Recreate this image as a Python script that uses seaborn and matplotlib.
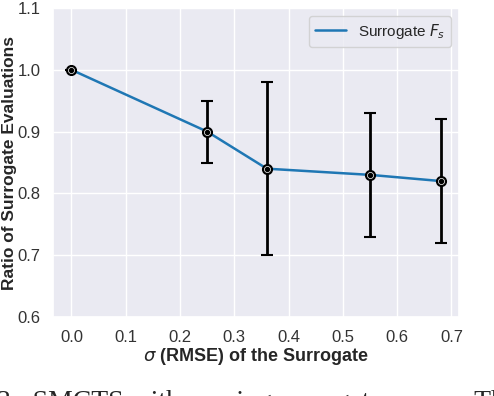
import matplotlib
matplotlib.use("Agg")
import matplotlib.pyplot as plt
import seaborn as sns
import pandas as pd

# values
sigma = [0.0, 0.25, 0.36, 0.55, 0.68]
ratio = [1.00, 0.90, 0.84, 0.83, 0.82]
err = [0.0, 0.05, 0.14, 0.10, 0.10]
x_ticks = [0.0, 0.1, 0.2, 0.3, 0.4, 0.5, 0.6, 0.7]
y_ticks = [0.6, 0.7, 0.8, 0.9, 1.0, 1.1]

sns.set_theme(style="darkgrid")
plt.rcParams['font.family'] = ['Liberation Sans', 'DejaVu Sans']

df = pd.DataFrame({"sigma": sigma, "ratio": ratio, "err": err})

fig = plt.figure(figsize=(4.94, 3.96), dpi=100)
ax = fig.add_axes([53 / 494, 1 - 317 / 396, 406 / 494, 309 / 396])

sns.lineplot(data=df, x="sigma", y="ratio", ax=ax, color="#1f77b4",
             linewidth=1.8, label="Surrogate $F_s$")
ax.errorbar(df["sigma"], df["ratio"], yerr=df["err"], fmt="none",
            ecolor="black", elinewidth=2, capsize=4, capthick=1.5, zorder=3)
ax.plot(df["sigma"], df["ratio"], "o", ms=7, mfc="black", mec="black",
        mew=1, zorder=4)
ax.plot(df["sigma"], df["ratio"], "o", ms=4.4, mfc="none", mec="white",
        mew=0.5, zorder=5)

ax.set_ylim(0.6, 1.1)
ax.set_xticks(x_ticks)
ax.set_yticks(y_ticks)
ax.tick_params(labelsize=12, colors="#333333", pad=3)
ax.set_xlabel(r"$\sigma$ (RMSE) of the Surrogate", fontsize=13,
              fontweight="bold", labelpad=1)
ax.set_ylabel("Ratio of Surrogate Evaluations", fontsize=12.5,
              fontweight="bold")
ax.yaxis.set_label_coords(-0.088, 0.5)
ax.legend(loc="upper right", fontsize=11)

fig.text(-0.006, -13 / 396, "3:  SMCTS with varying surrogate errors.  The",
         family=["Liberation Serif", "DejaVu Serif"], fontsize=20,
         va="baseline", ha="left")

fig.savefig("out.png", dpi=100)
